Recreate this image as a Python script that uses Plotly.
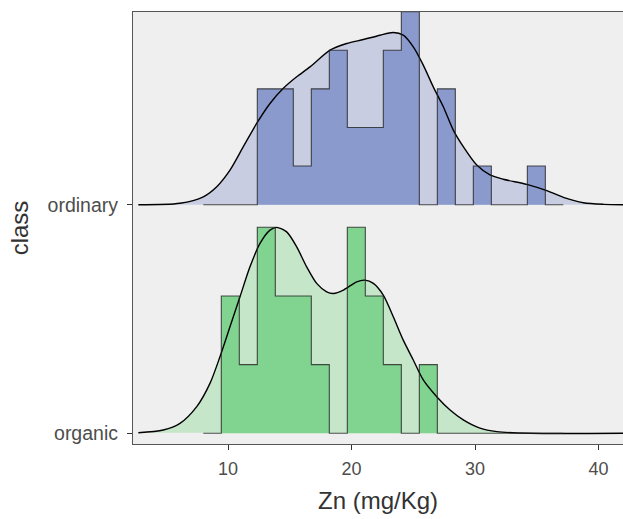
import numpy as np
import plotly.graph_objects as go

# ---------------- data ----------------
classes = ["organic", "ordinary"]          # bottom -> top
bin_start = 8.0
bin_end = 37.15
n_bins = 20

# histogram counts per bin (shared bins)
counts_organic = [0, 2, 1, 3, 2, 2, 1, 0, 3, 2, 1, 0, 1, 0, 0, 0, 0, 0, 0, 0]
counts_ordinary = [0, 0, 0, 3, 3, 1, 3, 4, 2, 2, 4, 5, 0, 3, 0, 1, 0, 0, 1, 0]

# kernel density curves (x in mg/Kg, density)
dens_x_ordinary = [2.74, 6.11, 8.0, 9.09, 10.16, 11.24, 12.32, 13.40, 14.48, 15.56, 16.64,
                   18.26, 19.61, 20.96, 22.31, 23.38, 24.19, 25.0, 25.81, 26.62, 27.43,
                   28.24, 29.05, 30.14, 31.21, 32.29, 34.19, 35.81, 37.15, 38.77, 40.39, 41.98]
dens_y_ordinary = [0.0, 0.0008, 0.0044, 0.0100, 0.0192, 0.0322, 0.0451, 0.0562, 0.0646, 0.0710,
                   0.0765, 0.0858, 0.0895, 0.0917, 0.0941, 0.0956, 0.0941, 0.0876, 0.0775,
                   0.0654, 0.0544, 0.0414, 0.0322, 0.0220, 0.0165, 0.0141, 0.0113, 0.0078,
                   0.0041, 0.0011, 0.0002, 0.0]

dens_x_organic = [2.74, 4.76, 6.11, 7.47, 8.54, 9.35, 10.16, 10.97, 11.78, 12.59, 13.40, 13.94,
                  14.75, 15.56, 16.37, 17.18, 17.99, 18.53, 19.34, 20.42, 21.09, 21.77, 22.57,
                  23.38, 24.19, 25.0, 25.81, 26.90, 27.98, 29.05, 30.40, 31.76, 34.45, 41.98]
dens_y_organic = [0.0003, 0.0018, 0.0055, 0.0148, 0.0277, 0.0425, 0.0591, 0.0758, 0.0924,
                  0.1054, 0.1128, 0.1143, 0.1118, 0.1035, 0.0924, 0.0832, 0.0785, 0.0776,
                  0.0795, 0.0841, 0.0850, 0.0832, 0.0767, 0.0647, 0.0517, 0.0407, 0.0296,
                  0.0203, 0.0129, 0.0074, 0.0028, 0.0009, 0.0, 0.0]

x_ticks = [10, 20, 30, 40]

# ---------------- style ----------------
SCALE = 7.88   # ridge height scale (y units per density unit)
styles = {
    "organic": dict(hist="#80d490", dens="#c6e6c9"),
    "ordinary": dict(hist="#8a9acd", dens="#c8cde1"),
}
FONT = "Liberation Sans, Arial, sans-serif"

groups = {
    "organic": (1, counts_organic, dens_x_organic, dens_y_organic),
    "ordinary": (2, counts_ordinary, dens_x_ordinary, dens_y_ordinary),
}

edges = np.linspace(bin_start, bin_end, n_bins + 1)
bw = edges[1] - edges[0]

fig = go.Figure()
for name in ["organic", "ordinary"]:
    base, counts, dx, dy = groups[name]
    st = styles[name]
    counts = np.array(counts, dtype=float)
    dens_hist = counts / (counts.sum() * bw)
    hy = base + SCALE * np.append(dens_hist, 0.0)
    dyy = base + SCALE * np.array(dy)

    # density fill
    fig.add_trace(go.Scatter(x=dx, y=dyy, mode="lines", fill="toself",
                             fillcolor=st["dens"], line=dict(width=0, shape="spline", smoothing=0.8),
                             hoverinfo="skip", showlegend=False))
    # histogram fill
    fig.add_trace(go.Scatter(x=edges, y=hy, mode="lines", fill="toself",
                             fillcolor=st["hist"], line=dict(width=0, shape="hv"),
                             hoverinfo="skip", showlegend=False))
    # density line
    fig.add_trace(go.Scatter(x=dx, y=dyy, mode="lines",
                             line=dict(color="black", width=1.4, shape="spline", smoothing=0.8),
                             hoverinfo="skip", showlegend=False))
    # histogram outline
    fig.add_trace(go.Scatter(x=edges, y=hy, mode="lines",
                             line=dict(color="rgba(35,35,35,0.8)", width=1.1, shape="hv"),
                             hoverinfo="skip", showlegend=False))

fig.update_layout(
    width=623, height=519,
    margin=dict(l=133, r=0, t=12, b=75),
    paper_bgcolor="white",
    plot_bgcolor="#efefef",
    font=dict(family=FONT, color="#4d4d4d"),
    xaxis=dict(range=[2.308, 41.98], tickvals=x_ticks, ticktext=[str(v) for v in x_ticks],
               showgrid=False, zeroline=False, showline=True, linecolor="#555555", linewidth=1.2,
               mirror=True, ticks="outside", ticklen=5, tickcolor="#333333", tickwidth=1.2,
               ticklabelstandoff=3,
               tickfont=dict(size=18, color="#4d4d4d"),
               title=dict(text="Zn (mg/Kg)", font=dict(size=24, color="#333333"), standoff=14)),
    yaxis=dict(range=[0.953, 2.843], tickvals=[1, 2], ticktext=classes,
               showgrid=False, zeroline=False, showline=True, linecolor="#555555", linewidth=1.2,
               ticks="outside", ticklen=5, tickcolor="#333333", tickwidth=1.2,
               ticklabelstandoff=5,
               tickfont=dict(size=19.5, color="#4d4d4d"),
               title=dict(text="class", font=dict(size=24, color="#333333"), standoff=12)),
)

fig.write_html("out.html")
